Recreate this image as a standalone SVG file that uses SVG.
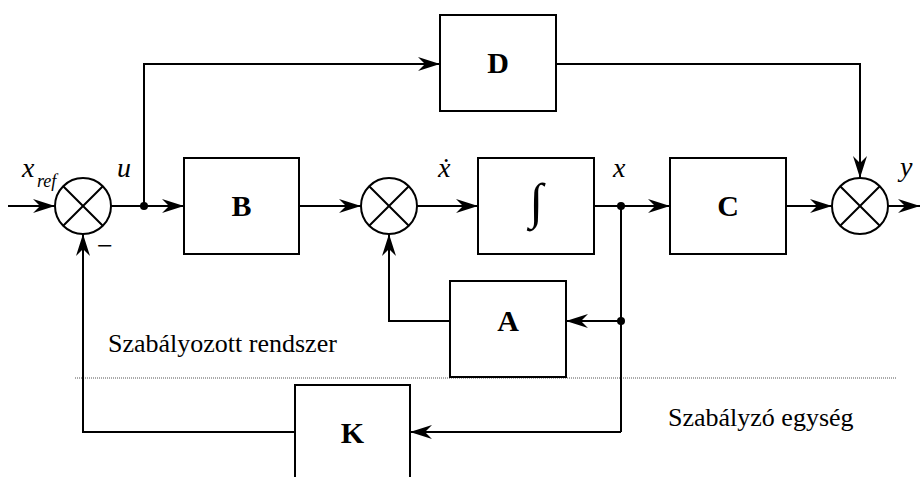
<svg xmlns="http://www.w3.org/2000/svg" width="920" height="477" viewBox="0 0 920 477">
<style>
.box{fill:#fff;stroke:#000;stroke-width:2}
.sum{fill:#fff;stroke:#000;stroke-width:2}
.cross{stroke:#000;stroke-width:2}
.conn{fill:none;stroke:#000;stroke-width:2}
.lbl{font-family:"Liberation Serif","Times New Roman",serif;font-weight:bold;font-size:30px;text-anchor:middle}
.it{font-family:"Liberation Serif","DejaVu Serif",serif;font-style:italic;font-size:28px}
.sub{font-family:"Liberation Serif","DejaVu Serif",serif;font-style:italic;font-size:18px}
.txt{font-family:"Liberation Serif","Times New Roman",serif;font-size:26px}
</style>
<defs>
<marker id="arr" markerUnits="userSpaceOnUse" viewBox="-23 -8 24 16" markerWidth="24" markerHeight="16" refX="0" refY="0" orient="auto">
<path d="M0,0 L-22,-7 L-15,0 L-22,7 Z" fill="#000"/>
</marker>
</defs>
<rect width="920" height="477" fill="#fff"/>
<line x1="75" y1="378" x2="896" y2="378" stroke="#555" stroke-width="1" stroke-dasharray="1,1"/>
<g id="connectors">
<path class="conn" d="M8,206 H55" marker-end="url(#arr)"/>
<path class="conn" d="M111,206 H184" marker-end="url(#arr)"/>
<path class="conn" d="M144,206 V64 H440" marker-end="url(#arr)"/>
<path class="conn" d="M556,64 H860 V178" marker-end="url(#arr)"/>
<path class="conn" d="M299,206 H361" marker-end="url(#arr)"/>
<path class="conn" d="M417,206 H478" marker-end="url(#arr)"/>
<path class="conn" d="M594,206 H670" marker-end="url(#arr)"/>
<path class="conn" d="M786,206 H832" marker-end="url(#arr)"/>
<path class="conn" d="M888,206 H920" marker-end="url(#arr)"/>
<path class="conn" d="M621,206 V432"/>
<path class="conn" d="M621,321 H566" marker-end="url(#arr)"/>
<path class="conn" d="M621,432 H410" marker-end="url(#arr)"/>
<path class="conn" d="M450,321 H389 V234" marker-end="url(#arr)"/>
<path class="conn" d="M295,432 H83 V234" marker-end="url(#arr)"/>
<circle cx="144" cy="206" r="4"/>
<circle cx="621" cy="206" r="4"/>
<circle cx="621" cy="321" r="4"/>
</g>
<g id="sum1">
<circle class="sum" cx="83" cy="206" r="28"/>
<path class="cross" d="M63.2,186.2 L102.8,225.8 M102.8,186.2 L63.2,225.8"/>
</g>
<g id="sum2">
<circle class="sum" cx="389" cy="206" r="28"/>
<path class="cross" d="M369.2,186.2 L408.8,225.8 M408.8,186.2 L369.2,225.8"/>
</g>
<g id="sum3">
<circle class="sum" cx="860" cy="206" r="28"/>
<path class="cross" d="M840.2,186.2 L879.8,225.8 M879.8,186.2 L840.2,225.8"/>
</g>
<g id="B"><rect class="box" x="184" y="158" width="115" height="96"/><text class="lbl" x="241.5" y="216">B</text></g>
<g id="D"><rect class="box" x="440" y="15" width="116" height="96"/><text class="lbl" x="498" y="73">D</text></g>
<g id="Int"><rect class="box" x="478" y="158" width="116" height="96"/><text x="536" y="218" font-family="Liberation Serif, DejaVu Serif, serif" font-size="50" text-anchor="middle">∫</text></g>
<g id="C"><rect class="box" x="670" y="158" width="116" height="96"/><text class="lbl" x="728" y="216">C</text></g>
<g id="A"><rect class="box" x="450" y="281" width="116" height="96"/><text class="lbl" x="508" y="331">A</text></g>
<g id="K"><rect class="box" x="295" y="385" width="115" height="100"/><text class="lbl" x="352.5" y="443">K</text></g>
<g id="labels">
<text class="it" x="22" y="177">x</text>
<text class="sub" x="37" y="187">ref</text>
<text class="it" x="117" y="177">u</text>
<text class="it" x="438" y="177">ẋ</text>
<text class="it" x="613" y="177">x</text>
<text class="it" x="900" y="176">y</text>
<text x="97" y="255" font-family="Liberation Serif, serif" font-size="28">−</text>
<text class="txt" x="108" y="352">Szabályozott rendszer</text>
<text class="txt" x="668" y="426">Szabályzó egység</text>
</g>
</svg>
